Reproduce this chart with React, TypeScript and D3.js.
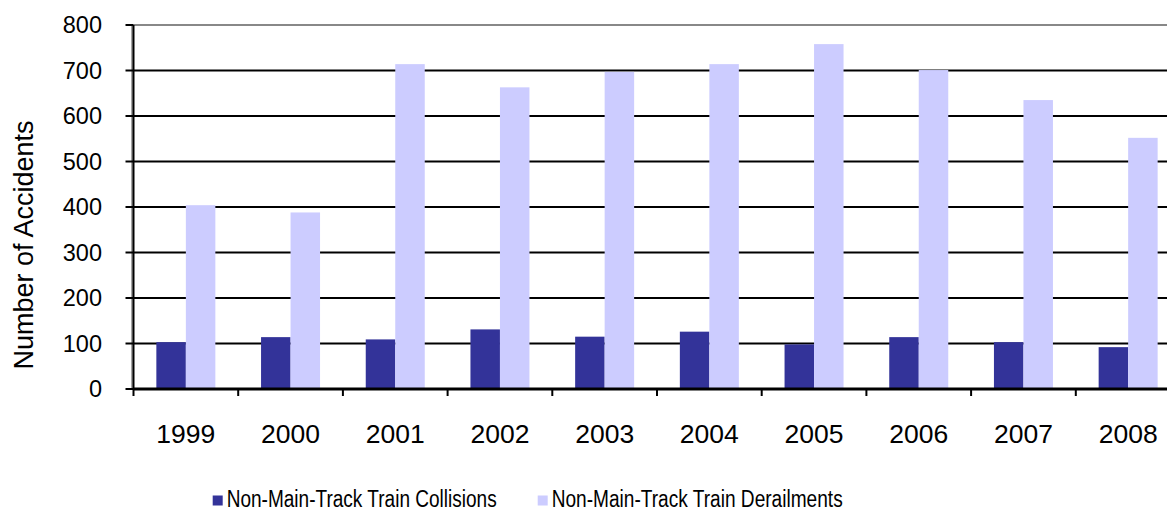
import React from "react";
import * as d3 from "d3";

const years = ["1999", "2000", "2001", "2002", "2003", "2004", "2005", "2006", "2007", "2008"];
const collisions = [103, 114, 109, 131, 115, 126, 98, 114, 103, 92];
const derailments = [404, 388, 714, 663, 697, 714, 758, 701, 635, 552];
const seriesNames = ["Non-Main-Track Train Collisions", "Non-Main-Track Train Derailments"];
const seriesColors = ["#333399", "#CCCCFF"];
const yTicks = [0, 100, 200, 300, 400, 500, 600, 700, 800];

const W = 1167;
const H = 510;
const left = 133.5;
const bandW = 104.7;
const top = 25;
const bottom = 389;
const font = "'Liberation Sans', Arial, sans-serif";

export default function App() {
  const x = d3
    .scaleBand<string>()
    .domain(years)
    .range([left, left + bandW * years.length])
    .padding(0);
  const barW = 29.5;
  const inner = d3
    .scaleBand<number>()
    .domain([0, 1])
    .range([(bandW - 2 * barW) / 2, (bandW + 2 * barW) / 2])
    .padding(0);
  const y = d3.scaleLinear().domain([0, 800]).range([bottom, top]);
  const series = [collisions, derailments];

  return (
    <svg
      width={W}
      height={H}
      style={{ position: "absolute", left: 0, top: 0, fontFamily: font }}
    >
      <rect width={W} height={H} fill="#fff" />
      {/* gridlines */}
      {yTicks.slice(1).map((t) => (
        <line
          key={t}
          x1={left}
          x2={W}
          y1={y(t)}
          y2={y(t)}
          stroke={t === 800 ? "#888" : "#000"}
          strokeWidth={2}
        />
      ))}
      {/* bars */}
      {series.map((vals, si) =>
        years.map((yr, i) => (
          <rect
            key={`${si}-${yr}`}
            x={(x(yr) as number) + (inner(si) as number)}
            width={inner.bandwidth()}
            y={y(vals[i])}
            height={bottom - y(vals[i])}
            fill={seriesColors[si]}
          />
        ))
      )}
      {/* y axis: grey edge with black line */}
      <line x1={left - 1.5} x2={left - 1.5} y1={top} y2={bottom} stroke="#888" strokeWidth={1.5} />
      <line x1={left} x2={left} y1={top} y2={bottom} stroke="#000" strokeWidth={2} />
      {yTicks.map((t) => (
        <g key={t}>
          <line x1={left - 8} x2={left} y1={y(t)} y2={y(t)} stroke="#000" strokeWidth={2} />
          <text
            x={102}
            y={y(t)}
            dy="0.36em"
            textAnchor="end"
            fontSize={23.5}
            fill="#000"
          >
            {t}
          </text>
        </g>
      ))}
      {/* x axis */}
      <line x1={left} x2={W} y1={bottom} y2={bottom} stroke="#000" strokeWidth={3} />
      {years.map((yr) => (
        <g key={yr}>
          <line
            x1={x(yr) as number}
            x2={x(yr) as number}
            y1={bottom}
            y2={bottom + 7}
            stroke="#000"
            strokeWidth={2}
          />
          <text
            x={(x(yr) as number) + x.bandwidth() / 2}
            y={443}
            textAnchor="middle"
            fontSize={26.5}
            fill="#000"
          >
            {yr}
          </text>
        </g>
      ))}
      {/* y axis title */}
      <text
        transform={`translate(33,245) rotate(-90)`}
        textAnchor="middle"
        fontSize={27}
        fill="#000"
      >
        Number of Accidents
      </text>
      {/* legend */}
      {seriesNames.map((name, i) => {
        const lx = [212.7, 537.7][i];
        return (
          <g key={name}>
            <rect x={lx} y={495.5} width={10} height={10} fill={seriesColors[i]} />
            <text
              x={lx + 14}
              y={506.5}
              fontSize={23}
              fill="#000"
              textLength={i === 0 ? 270 : 291}
              lengthAdjust="spacingAndGlyphs"
            >
              {name}
            </text>
          </g>
        );
      })}
    </svg>
  );
}
